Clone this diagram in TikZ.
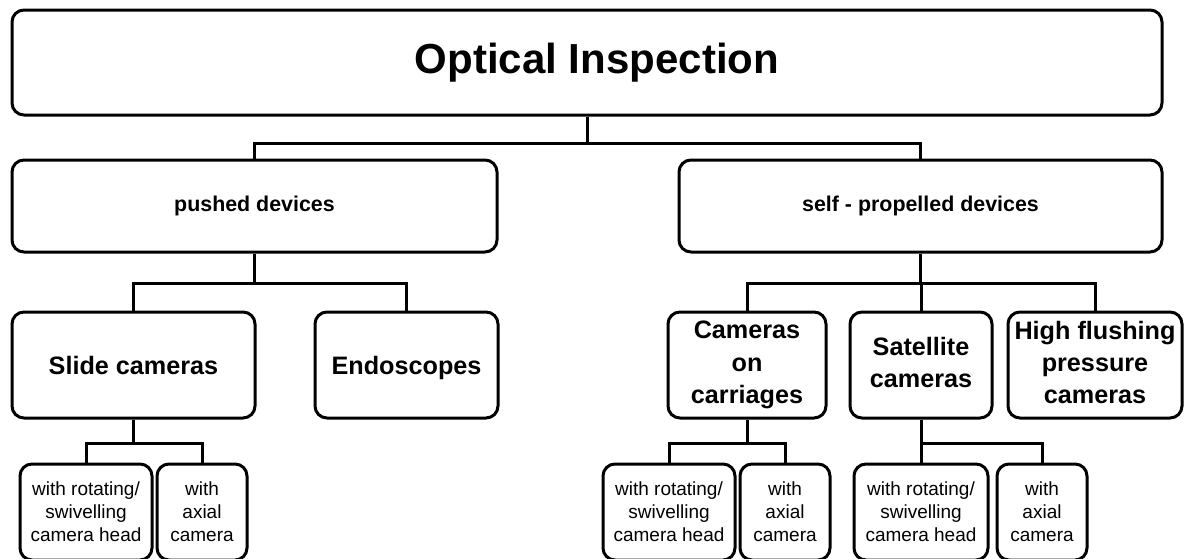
\documentclass[tikz,border=0pt]{standalone}
\usepackage{fontspec}
\setmainfont{Liberation Sans}
\begin{document}
\begin{tikzpicture}[x=0.5pt,y=-0.5pt,
	box/.style={draw,line width=1.5pt,rounded corners=6pt,align=center,inner sep=0pt},
	head/.style={box,font=\bfseries\fontsize{21}{25}\selectfont,minimum height=52.5pt},
	group/.style={box,font=\bfseries\fontsize{10.7}{13}\selectfont,minimum height=46pt},
	kind/.style={box,font=\bfseries\fontsize{12.6}{16.2}\selectfont,minimum height=53pt,
		execute at begin node=\rule{0pt}{12.2pt},execute at end node=\rule[-2.7pt]{0pt}{2.7pt}},
	variant/.style={box,font=\fontsize{9.5}{11.5}\selectfont,minimum height=48pt},
	link/.style={line width=1.5pt}]

\useasboundingbox (0,0) rectangle (1193,558);

\node[head,minimum width=575pt] (top) at (587,62.5) {\hspace*{10pt}Optical Inspection};

\node[group,minimum width=242.5pt] (push) at (254.5,206) {pushed devices};
\node[group,minimum width=241.5pt] (self) at (920.5,206) {self - propelled devices};

\node[kind,minimum width=121.5pt] (slide) at (133.5,365) {Slide cameras};
\node[kind,minimum width=91.5pt] (endo) at (406.5,365) {Endoscopes};
\node[kind,minimum width=79pt] (carr) at (747,365) {Cameras\\on\\carriages};
\node[kind,minimum width=71pt] (sat) at (921,365) {Satellite\\cameras};
\node[kind,minimum width=87pt] (high) at (1095,365) {High flushing\\pressure\\cameras};

% camera heads under each kind
\node[variant,minimum width=66pt] (sliderot) at (86,512) {with rotating/\\swivelling\\camera head};
\node[variant,minimum width=45pt] (slideax) at (202,512) {with\\axial\\camera};
\node[variant,minimum width=66pt] (carrrot) at (669,512) {with rotating/\\swivelling\\camera head};
\node[variant,minimum width=45pt] (carrax) at (785,512) {with\\axial\\camera};
\node[variant,minimum width=67pt] (satrot) at (921,512) {with rotating/\\swivelling\\camera head};
\node[variant,minimum width=45pt] (satax) at (1042,512) {with\\axial\\camera};

% connectors
\draw[link] (top.south) -- ++(0,27) -| (push.north);
\draw[link] (top.south) -- ++(0,27) -| (self.north);

\draw[link] (push.south) -- ++(0,30) -| (slide.north);
\draw[link] (push.south) -- ++(0,30) -| (endo.north);

\draw[link] (self.south) -- ++(0,30) -| (carr.north);
\draw[link] (self.south) -- ++(0,30) -| (sat.north);
\draw[link] (self.south) -- ++(0,30) -| (high.north);

\draw[link] (slide.south) -- ++(0,24) -| (sliderot.north);
\draw[link] (slide.south) -- ++(0,24) -| (slideax.north);
\draw[link] (carr.south) -- ++(0,24) -| (carrrot.north);
\draw[link] (carr.south) -- ++(0,24) -| (carrax.north);
\draw[link] (sat.south) -- ++(0,24) -| (satrot.north);
\draw[link] (sat.south) -- ++(0,24) -| (satax.north);

\end{tikzpicture}
\end{document}
